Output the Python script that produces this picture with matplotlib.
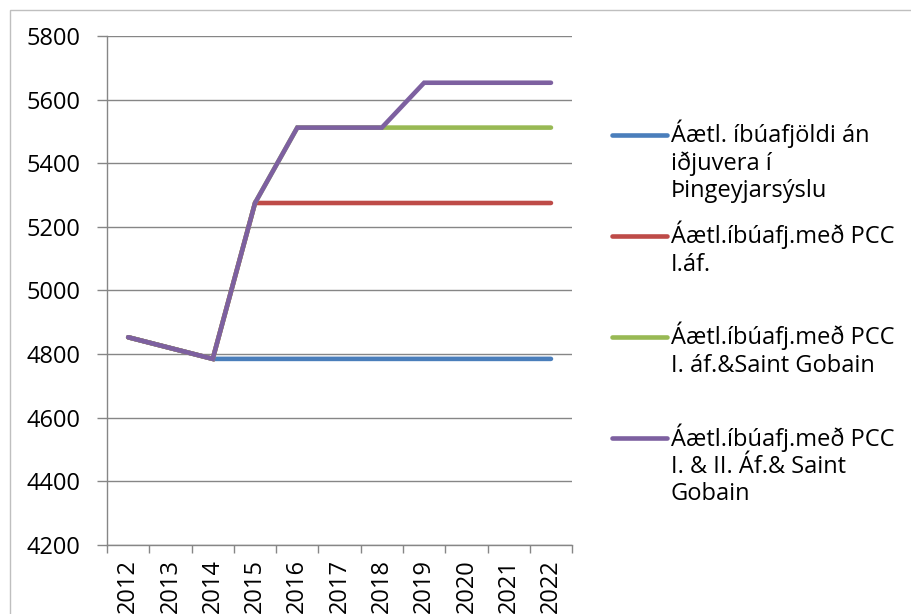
import matplotlib
matplotlib.use('Agg')
import matplotlib.pyplot as plt
from matplotlib.lines import Line2D
from matplotlib.patches import Rectangle

plt.rcParams['font.family'] = ['Open Sans', 'DejaVu Sans']

years = ['2012', '2013', '2014', '2015', '2016', '2017', '2018', '2019', '2020', '2021', '2022']

base = [4853, 4819, 4785, 4785, 4785, 4785, 4785, 4785, 4785, 4785, 4785]
pcc1 = [4853, 4819, 4785, 5275, 5275, 5275, 5275, 5275, 5275, 5275, 5275]
pcc1_sg = [4853, 4819, 4785, 5275, 5512, 5512, 5512, 5512, 5512, 5512, 5512]
pcc12_sg = [4853, 4819, 4785, 5275, 5512, 5512, 5512, 5653, 5653, 5653, 5653]

labels = ['Áætl. íbúafjöldi án\niðjuvera í\nÞingeyjarsýslu',
          'Áætl.íbúafj.með PCC\nI.áf.',
          'Áætl.íbúafj.með PCC\nI. áf.&Saint Gobain',
          'Áætl.íbúafj.með PCC\nI. & II. Áf.& Saint\nGobain']
colors = ['#4A7EBB', '#BE4B48', '#98B954', '#7D60A0']

fig = plt.figure(figsize=(9.11, 6.14), dpi=100)
ax = fig.add_axes([0.1175, 0.1124, 0.5105, 0.829])

x = list(range(len(years)))
for series, c in zip([base, pcc1, pcc1_sg, pcc12_sg], colors):
    ax.plot(x, series, color=c, linewidth=3.3, solid_capstyle='round', solid_joinstyle='miter')

grid_c = '#868686'
ax.set_ylim(4200, 5800)
ax.set_yticks(range(4200, 5801, 200))
ax.set_xlim(-0.5, 10.5)
ax.set_xticks(x)
ax.set_xticklabels(years, rotation=90)
ax.set_xticks([i - 0.5 for i in range(len(years) + 1)], minor=True)
ax.yaxis.grid(True, color=grid_c, linewidth=1)
ax.set_axisbelow(True)
ax.tick_params(axis='x', which='major', length=0, pad=10, labelsize=17)
ax.tick_params(axis='x', which='minor', length=6, color=grid_c, width=1)
ax.tick_params(axis='y', length=7, color=grid_c, width=1, pad=12, labelsize=17)
for s in ['top', 'right']:
    ax.spines[s].set_visible(False)
for s in ['left', 'bottom']:
    ax.spines[s].set_color(grid_c)
    ax.spines[s].set_linewidth(1)

# legend drawn by hand to keep handle on first text line
top = 1 - 135 / 614
step = 101 / 614
for i, (lab, c) in enumerate(zip(labels, colors)):
    yy = top - i * step
    fig.add_artist(Line2D([612 / 911, 667 / 911], [yy, yy], color=c, linewidth=3.3,
                          solid_capstyle='round', transform=fig.transFigure))
    fig.text(671 / 911, yy + 15 / 614, lab, fontsize=17, va='top', ha='left',
             linespacing=1.17)

fig.add_artist(Rectangle((10 / 911, -0.1), 1.2, 1 - 10 / 614 + 0.1, transform=fig.transFigure,
                         fill=False, edgecolor='#BFBFBF', linewidth=1))

fig.savefig('out.png', dpi=100)
